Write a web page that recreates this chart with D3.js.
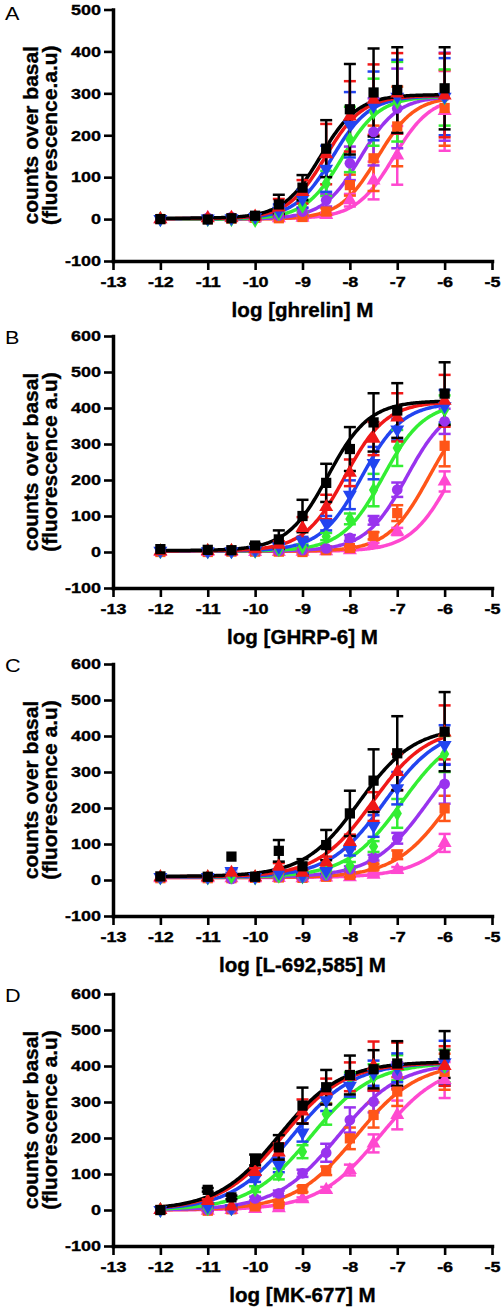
<!DOCTYPE html>
<html><head><meta charset="utf-8">
<script src="https://cdnjs.cloudflare.com/ajax/libs/d3/7.8.5/d3.min.js"></script>
<style>body{margin:0;background:#fff}svg{display:block}</style>
</head><body>
<svg id="chart" width="504" height="1310"></svg>
<script>
// ---------------- DATA ----------------
const logDose = [-12, -11, -10.5, -10, -9.5, -9, -8.5, -8, -7.5, -7, -6];
const xTicks = [-13, -12, -11, -10, -9, -8, -7, -6, -5];
const yTicksA = [-100, 0, 100, 200, 300, 400, 500];
const yTicksBCD = [-100, 0, 100, 200, 300, 400, 500, 600];
const seriesNames = ["series 1", "series 2", "series 3", "series 4", "series 5", "series 6", "series 7"];
const panelLetters = ["A", "B", "C", "D"];
const xLabels = ["log [ghrelin] M", "log [GHRP-6] M", "log [L-692,585] M", "log [MK-677] M"];
const yLabelLine1 = ["counts over basal", "counts over basal", "counts over basal", "counts over basal"];
const yLabelLine2 = ["(fluorescence.a.u)", "(fluorescence a.u)", "(fluorescence a.u)", "(fluorescence a.u)"];

// Panel A: ghrelin — means (7 series x 11 doses)
const ghrelinMean = [
  [0, -1, 2, 8, 35, 75, 168, 262, 302, 308, 312],
  [0, 2, 3, 6, 28, 65, 155, 245, 285, 300, 295],
  [0, 1, 2, 5, 20, 48, 120, 225, 270, 292, 292],
  [0, 0, 0, -2, 14, 32, 85, 190, 255, 280, 290],
  [0, 3, 5, 4, 8, 18, 45, 133, 208, 264, 292],
  [0, 0, 1, 3, 2, 5, 18, 81, 145, 221, 265],
  [0, 3, 2, 2, 2, 3, 10, 45, 92, 152, 258]
];
const ghrelinErr = [
  [0, 0, 0, 5, 23, 30, 68, 108, 105, 102, 98],
  [0, 0, 0, 3, 20, 28, 72, 84, 84, 96, 100],
  [0, 0, 0, 3, 15, 22, 55, 78, 82, 88, 92],
  [0, 0, 0, 3, 10, 15, 30, 78, 80, 95, 67],
  [0, 0, 0, 2, 5, 10, 15, 40, 80, 95, 105],
  [0, 0, 0, 2, 3, 4, 8, 25, 78, 95, 90],
  [0, 0, 0, 1, 2, 3, 5, 15, 45, 70, 95]
];
const ghrelinBottom = [2, 1, 1, 0, 0, 0, 1];
const ghrelinTop = [297, 295, 294, 293, 293, 293, 293];
const ghrelinLogEC50 = [-8.62, -8.52, -8.37, -8.16, -7.78, -7.42, -7.08];
const ghrelinHill = [1.1, 1.1, 1.1, 1.1, 1.1, 1.1, 1.1];

// Panel B: GHRP-6
const ghrp6Mean = [
  [8, 6, 5, 18, 35, 100, 192, 286, 360, 393, 440],
  [2, 3, 3, 8, 20, 67, 125, 220, 315, 374, 420],
  [3, 2, 2, 5, 15, 30, 80, 159, 247, 340, 405],
  [2, 2, 2, 3, 8, 15, 43, 92, 172, 289, 395],
  [2, 1, 2, 2, 3, 5, 10, 39, 88, 173, 363],
  [0, 0, 1, 1, 1, 0, 5, 11, 45, 108, 295],
  [0, 0, 0, 0, 0, 1, 2, 5, 20, 57, 196]
];
const ghrp6Err = [
  [0, 0, 0, 5, 25, 45, 53, 61, 81, 76, 87],
  [0, 0, 0, 3, 10, 30, 34, 37, 46, 67, 72],
  [0, 0, 0, 2, 8, 12, 20, 40, 45, 30, 45],
  [0, 0, 0, 2, 4, 6, 10, 15, 45, 50, 40],
  [0, 0, 0, 1, 2, 3, 5, 8, 12, 20, 35],
  [0, 0, 0, 1, 1, 2, 3, 5, 10, 22, 57],
  [0, 0, 0, 0, 1, 1, 2, 3, 5, 10, 28]
];
const ghrp6Bottom = [4, 3, 3, 3, 3, 2, 2];
const ghrp6Top = [420, 418, 415, 415, 415, 415, 415];
const ghrp6LogEC50 = [-8.46, -8.1, -7.75, -7.3, -6.8, -6.33, -5.85];
const ghrp6Hill = [1, 1, 1, 1, 1, 1, 1];

// Panel C: L-692,585
const l692Mean = [
  [10, 9, 65, 9, 81, 38, 97, 185, 276, 352, 412],
  [8, 8, 20, 8, 37, 20, 50, 106, 204, 300, 410],
  [8, 8, 25, 8, 20, 12, 25, 83, 150, 255, 375],
  [7, 7, 10, 7, 12, 10, 20, 40, 93, 185, 350],
  [6, 6, 3, 7, 8, 7, 12, 30, 62, 116, 267],
  [5, 5, 5, 6, 7, 6, 9, 14, 37, 70, 199],
  [5, 5, 5, 5, 6, 5, 7, 8, 15, 28, 103]
];
const l692Err = [
  [0, 0, 0, 0, 30, 20, 42, 63, 87, 103, 110],
  [0, 0, 0, 0, 10, 8, 15, 20, 40, 50, 75],
  [0, 0, 5, 0, 5, 5, 8, 15, 30, 45, 55],
  [0, 0, 0, 0, 4, 4, 6, 10, 15, 40, 50],
  [0, 0, 0, 0, 3, 2, 4, 8, 8, 15, 55],
  [0, 0, 0, 0, 2, 2, 3, 5, 8, 12, 35],
  [0, 0, 0, 0, 1, 1, 2, 3, 5, 8, 25]
];
const l692Bottom = [10, 9, 8, 8, 8, 7, 7];
const l692Top = [425, 425, 425, 425, 425, 425, 425];
const l692LogEC50 = [-7.8, -7.52, -7.27, -6.9, -6.35, -5.87, -5.25];
const l692Hill = [0.75, 0.75, 0.75, 0.75, 0.75, 0.75, 0.75];

// Panel D: MK-677
const mk677Mean = [
  [0, 56, 35, 139, 174, 290, 341, 375, 391, 407, 432],
  [0, 25, 10, 106, 160, 274, 330, 370, 400, 400, 400],
  [0, 10, 5, 88, 125, 215, 305, 345, 380, 395, 410],
  [0, 5, 5, 58, 100, 162, 267, 347, 370, 395, 400],
  [0, 0, 2, 32, 46, 102, 159, 250, 301, 375, 395],
  [0, -2, 2, 10, 17, 58, 109, 199, 264, 329, 384],
  [0, -2, 0, 3, 5, 30, 56, 111, 185, 264, 361]
];
const mk677Err = [
  [0, 5, 5, 15, 34, 50, 48, 54, 53, 62, 65],
  [0, 5, 3, 10, 25, 33, 35, 40, 68, 65, 55],
  [0, 3, 3, 10, 20, 25, 30, 30, 35, 40, 60],
  [0, 2, 2, 8, 15, 18, 30, 35, 35, 35, 45],
  [0, 2, 2, 5, 8, 10, 25, 35, 30, 35, 50],
  [0, 2, 2, 3, 4, 8, 12, 30, 35, 40, 50],
  [0, 1, 1, 2, 3, 5, 8, 15, 25, 40, 50]
];
const mk677Bottom = [0, 0, 0, 0, 0, 0, 0];
const mk677Top = [412, 410, 410, 410, 410, 410, 410];
const mk677LogEC50 = [-9.5, -9.42, -9.22, -8.82, -8.25, -7.87, -7.37];
const mk677Hill = [0.67, 0.67, 0.67, 0.67, 0.67, 0.67, 0.67];

// ---------------- STYLE / LAYOUT ----------------
const colors = ["#000000", "#f01818", "#2244f0", "#33ee33", "#9933ee", "#ff5518", "#ff48d0"];
const shapes = ["square", "triUp", "triDown", "diamond", "circle", "square", "triUp"];
const fontFam = "'Liberation Sans', Arial, Helvetica, sans-serif";

const panels = [
  {mean: ghrelinMean, err: ghrelinErr, bottom: ghrelinBottom, top: ghrelinTop, ec: ghrelinLogEC50, hill: ghrelinHill, yMax: 500, yTicks: yTicksA, py0: 9.5, py1: 261},
  {mean: ghrp6Mean, err: ghrp6Err, bottom: ghrp6Bottom, top: ghrp6Top, ec: ghrp6LogEC50, hill: ghrp6Hill, yMax: 600, yTicks: yTicksBCD, py0: 336, py1: 588},
  {mean: l692Mean, err: l692Err, bottom: l692Bottom, top: l692Top, ec: l692LogEC50, hill: l692Hill, yMax: 600, yTicks: yTicksBCD, py0: 664, py1: 916},
  {mean: mk677Mean, err: mk677Err, bottom: mk677Bottom, top: mk677Top, ec: mk677LogEC50, hill: mk677Hill, yMax: 600, yTicks: yTicksBCD, py0: 994, py1: 1246}
];

const svg = d3.select("#chart");
svg.append("rect").attr("width", 504).attr("height", 1310).attr("fill", "#fff");

const x = d3.scaleLinear().domain([-13, -5]).range([113, 492]);
const TS = 1.2; // horizontal stretch of tick labels

function symbolPath(shape) {
  if (shape === "square") return d3.symbol().type(d3.symbolSquare).size(105)();
  if (shape === "triUp" || shape === "triDown") return d3.symbol().type(d3.symbolTriangle).size(85)();
  if (shape === "diamond") return d3.symbol().type(d3.symbolDiamond).size(75)();
  return d3.symbol().type(d3.symbolCircle).size(90)();
}

function boldText(sel, size) {
  return sel.attr("font-family", fontFam).attr("font-weight", "bold").attr("font-size", size)
    .attr("fill", "#000").attr("stroke", "#000").attr("stroke-width", 0.35);
}

panels.forEach((p, pi) => {
  const y = d3.scaleLinear().domain([-100, p.yMax]).range([p.py1, p.py0]);
  const g = svg.append("g");

  // axes
  const gx = g.append("g").attr("transform", `translate(0,${p.py1})`)
    .call(d3.axisBottom(x).tickValues(xTicks).tickFormat(d3.format("d")).tickSize(9).tickSizeOuter(0).tickPadding(6));
  const gy = g.append("g").attr("transform", `translate(${x(-13)},0)`)
    .call(d3.axisLeft(y).tickValues(p.yTicks).tickFormat(d3.format("d")).tickSize(9).tickSizeOuter(0).tickPadding(3));
  [gx, gy].forEach(a => {
    a.select(".domain").attr("stroke", "#000").attr("stroke-width", 3.5).attr("stroke-linecap", "square");
    a.selectAll(".tick line").attr("stroke", "#000").attr("stroke-width", 2.6);
    boldText(a.selectAll(".tick text"), 15);
    a.selectAll(".tick text").text(d => String(d));
  });
  gx.selectAll(".tick text").attr("transform", `scale(${TS},1)`);
  gy.selectAll(".tick text").attr("x", -12 / TS).attr("transform", `scale(${TS},1)`);

  // labels
  boldText(g.append("text").attr("x", x(-9)).attr("y", p.py1 + 56).attr("text-anchor", "middle"), 20.6)
    .text(xLabels[pi]);
  const yc = (p.py0 + p.py1) / 2;
  boldText(g.append("text").attr("transform", `translate(38,${yc}) rotate(-90)`).attr("text-anchor", "middle"), 21)
    .text(yLabelLine1[pi]);
  boldText(g.append("text").attr("transform", `translate(56.5,${yc}) rotate(-90)`).attr("text-anchor", "middle"), 21)
    .text(yLabelLine2[pi]);
  g.append("text").attr("transform", `translate(5,${p.py0 + (pi === 0 ? 10.5 : 7.5)}) scale(1.2,1)`)
    .attr("font-family", fontFam).attr("font-size", 18).text(panelLetters[pi]);

  const order = d3.range(seriesNames.length).reverse();

  // fitted curves (4-parameter logistic, parameters)
  const xs = d3.range(-12, -5.999, 0.025);
  const line = d3.line().x(d => x(d[0])).y(d => y(d[1])).curve(d3.curveLinear);
  order.forEach(s => {
    const pts = xs.map(v => [v, p.bottom[s] + (p.top[s] - p.bottom[s]) / (1 + Math.pow(10, (p.ec[s] - v) * p.hill[s]))]);
    g.append("path").datum(pts).attr("d", line).attr("fill", "none")
      .attr("stroke", colors[s]).attr("stroke-width", 3.5).attr("stroke-linejoin", "round");
  });

  // error bars
  order.forEach(s => {
    const eg = g.append("g").attr("stroke", colors[s]).attr("stroke-width", 2.5);
    logDose.forEach((xd, i) => {
      const m = p.mean[s][i], e = p.err[s][i];
      if (!e) return;
      const cx = x(xd);
      eg.append("line").attr("x1", cx).attr("x2", cx).attr("y1", y(m - e)).attr("y2", y(m + e));
      [m - e, m + e].forEach(v => eg.append("line").attr("x1", cx - 6).attr("x2", cx + 6).attr("y1", y(v)).attr("y2", y(v)));
    });
  });

  // markers
  order.forEach(s => {
    const d = symbolPath(shapes[s]);
    g.append("g").selectAll("path").data(logDose).join("path")
      .attr("d", d)
      .attr("transform", (xd, i) => `translate(${x(xd)},${y(p.mean[s][i])})` + (shapes[s] === "triDown" ? " rotate(180)" : ""))
      .attr("fill", colors[s]);
  });
});
</script>
</body></html>
